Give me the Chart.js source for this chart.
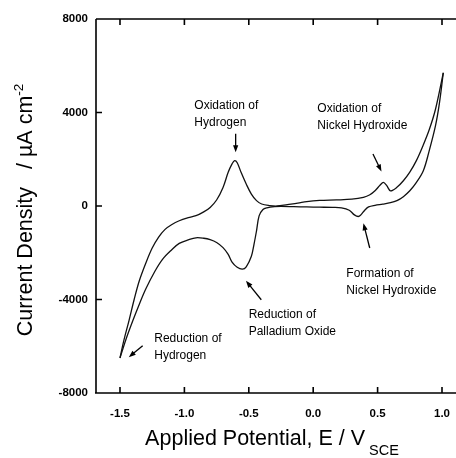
<!DOCTYPE html>
<html>
<head>
<meta charset="utf-8">
<script src="https://cdn.jsdelivr.net/npm/chart.js@4.4.1/dist/chart.umd.min.js"></script>
<style>
  html, body { margin: 0; padding: 0; background: #fff; }
  #wrap { width: 456px; height: 458px; position: relative; }
</style>
</head>
<body>
<div id="wrap"><canvas id="cv"></canvas></div>
<script>
// anodic sweep, -1.5 V up to +1.0 V
const forwardE = [-1.50, -1.47, -1.43, -1.39, -1.35, -1.30, -1.25, -1.20, -1.15, -1.10, -1.04, -0.97, -0.91, -0.85, -0.80, -0.75, -0.70, -0.66, -0.63, -0.61, -0.59, -0.56, -0.52, -0.48, -0.44, -0.40, -0.34, -0.28, -0.20, -0.12, -0.05, 0.05, 0.18, 0.30, 0.39, 0.44, 0.48, 0.52, 0.545, 0.57, 0.60, 0.65, 0.70, 0.75, 0.80, 0.85, 0.90, 0.95, 1.01];
const forwardI = [-6500, -5750, -4900, -4000, -3200, -2450, -1800, -1330, -1000, -800, -630, -500, -415, -250, -60, 257, 796, 1440, 1800, 1940, 1850, 1440, 940, 510, 230, 85, 20, 0, 60, 120, 190, 240, 260, 290, 370, 480, 650, 900, 1010, 880, 650, 800, 1080, 1450, 1930, 2550, 3250, 4150, 5700];

// cathodic sweep, +1.0 V back down to -1.5 V
const reverseE = [1.01, 0.98, 0.95, 0.90, 0.855, 0.80, 0.75, 0.70, 0.65, 0.60, 0.54, 0.48, 0.43, 0.40, 0.37, 0.35, 0.32, 0.28, 0.22, 0.15, 0.05, -0.05, -0.15, -0.25, -0.30, -0.36, -0.39, -0.42, -0.44, -0.46, -0.48, -0.52, -0.55, -0.59, -0.63, -0.66, -0.70, -0.75, -0.80, -0.85, -0.91, -0.97, -1.04, -1.10, -1.17, -1.23, -1.30, -1.35, -1.40, -1.45, -1.50];
const reverseI = [5700, 4400, 3450, 2350, 1510, 1000, 650, 400, 230, 140, 80, 30, -40, -180, -380, -450, -380, -180, -80, -60, -50, -40, -30, -20, -30, -80, -150, -420, -1060, -1650, -2150, -2600, -2700, -2620, -2400, -2070, -1780, -1560, -1440, -1380, -1360, -1450, -1600, -1880, -2280, -2800, -3550, -4200, -4900, -5650, -6500];

const xTicks = [-1.5, -1.0, -0.5, 0.0, 0.5, 1.0];
const yTicks = [-8000, -4000, 0, 4000, 8000];

// peak labels: text lines, where the text starts, arrow tail -> tip (E, I)
const notes = [
  { lines: ['Oxidation of', 'Hydrogen'], at: [-0.923, 4290], from: [-0.602, 3090], to: [-0.602, 2300] },
  { lines: ['Oxidation of', 'Nickel Hydroxide'], at: [0.032, 4150], from: [0.464, 2225], to: [0.530, 1480] },
  { lines: ['Formation of', 'Nickel Hydroxide'], at: [0.257, -2910], from: [0.439, -1797], to: [0.390, -740] },
  { lines: ['Reduction of', 'Palladium Oxide'], at: [-0.501, -4650], from: [-0.403, -4010], to: [-0.522, -3200] },
  { lines: ['Reduction of', 'Hydrogen'], at: [-1.234, -5690], from: [-1.324, -5975], to: [-1.432, -6470] }
];

const FONT = '"Liberation Sans", Arial, Helvetica, sans-serif';

function pts(xs, ys) {
  return xs.map((x, i) => ({ x: x, y: ys[i] }));
}

function richText(ctx, parts, x, y) {
  // parts: [text, size, dy]
  let w = 0;
  parts.forEach(p => { ctx.font = p[1] + 'px ' + FONT; w += ctx.measureText(p[0]).width; });
  let cx = x - w / 2;
  parts.forEach(p => {
    ctx.font = p[1] + 'px ' + FONT;
    ctx.fillText(p[0], cx, y + p[2]);
    cx += ctx.measureText(p[0]).width;
  });
}

const decor = {
  id: 'decor',
  afterDraw(chart) {
    const { ctx, chartArea: a, scales: { x, y } } = chart;
    ctx.save();
    ctx.strokeStyle = '#000';
    ctx.fillStyle = '#000';
    ctx.lineWidth = 1.6;
    ctx.beginPath();
    ctx.moveTo(a.left, a.top); ctx.lineTo(a.right, a.top);
    ctx.moveTo(a.left, a.top); ctx.lineTo(a.left, a.bottom);
    ctx.moveTo(a.left - 1, a.bottom); ctx.lineTo(a.right, a.bottom);
    xTicks.forEach(v => {
      const px = x.getPixelForValue(v);
      ctx.moveTo(px, a.bottom); ctx.lineTo(px, a.bottom - 6);
      ctx.moveTo(px, a.top); ctx.lineTo(px, a.top + 6);
    });
    yTicks.forEach(v => {
      const py = y.getPixelForValue(v);
      ctx.moveTo(a.left, py); ctx.lineTo(a.left + 6, py);
    });
    ctx.stroke();

    // annotations
    ctx.font = '12px ' + FONT;
    ctx.textBaseline = 'middle';
    ctx.textAlign = 'left';
    notes.forEach(n => {
      const tx = x.getPixelForValue(n.at[0]);
      const ty = y.getPixelForValue(n.at[1]);
      n.lines.forEach((t, i) => ctx.fillText(t, tx, ty + i * 17));
      const x0 = x.getPixelForValue(n.from[0]), y0 = y.getPixelForValue(n.from[1]);
      const x1 = x.getPixelForValue(n.to[0]), y1 = y.getPixelForValue(n.to[1]);
      const ang = Math.atan2(y1 - y0, x1 - x0);
      ctx.lineWidth = 1.3;
      ctx.beginPath();
      ctx.moveTo(x0, y0);
      ctx.lineTo(x1 - 5 * Math.cos(ang), y1 - 5 * Math.sin(ang));
      ctx.stroke();
      ctx.beginPath();
      ctx.moveTo(x1, y1);
      ctx.lineTo(x1 - 7 * Math.cos(ang) + 2.6 * Math.sin(ang), y1 - 7 * Math.sin(ang) - 2.6 * Math.cos(ang));
      ctx.lineTo(x1 - 7 * Math.cos(ang) - 2.6 * Math.sin(ang), y1 - 7 * Math.sin(ang) + 2.6 * Math.cos(ang));
      ctx.closePath();
      ctx.fill();
    });

    // axis titles
    ctx.textBaseline = 'alphabetic';
    ctx.textAlign = 'left';
    richText(ctx, [['Applied Potential, E / V', 21.5, 0], [' SCE', 14.5, 10]], 272, 445);
    ctx.translate(32, 210);
    ctx.rotate(-Math.PI / 2);
    richText(ctx, [['Current Density   / \u00b5A cm', 21.5, 0], ['-2', 13.5, -9]], 0, 0);
    ctx.restore();
  }
};

const chart = new Chart(document.getElementById('cv'), {
  type: 'scatter',
  data: {
    datasets: [
      { label: 'anodic', data: pts(forwardE, forwardI) },
      { label: 'cathodic', data: pts(reverseE, reverseI) }
    ]
  },
  options: {
    responsive: true,
    maintainAspectRatio: false,
    animation: false,
    layout: { padding: { top: 19, right: 0, left: 0, bottom: 0 } },
    elements: {
      point: { radius: 0, hoverRadius: 0 },
      line: { borderColor: '#111', borderWidth: 1.3, tension: 0.35, fill: false }
    },
    datasets: { scatter: { showLine: true } },
    plugins: { legend: { display: false }, tooltip: { enabled: false } },
    scales: {
      x: {
        type: 'linear',
        min: -1.6863,
        max: 1.1087,
        grid: { display: false },
        border: { display: false },
        afterBuildTicks: s => { s.ticks = xTicks.map(v => ({ value: v })); },
        afterFit: s => { s.height = 65; },
        ticks: {
          color: '#000',
          padding: 6,
          maxRotation: 0,
          font: { family: FONT, size: 11.5, weight: 'bold' },
          callback: v => v.toFixed(1)
        }
      },
      y: {
        type: 'linear',
        min: -8000,
        max: 8000,
        grid: { display: false, drawTicks: false },
        border: { display: false },
        afterBuildTicks: s => { s.ticks = yTicks.map(v => ({ value: v })); },
        afterFit: s => { s.width = 96; },
        ticks: {
          color: '#000',
          padding: 8,
          font: { family: FONT, size: 11.5, weight: 'bold' },
          callback: v => String(v)
        }
      }
    }
  },
  plugins: [decor]
});
</script>
</body>
</html>
